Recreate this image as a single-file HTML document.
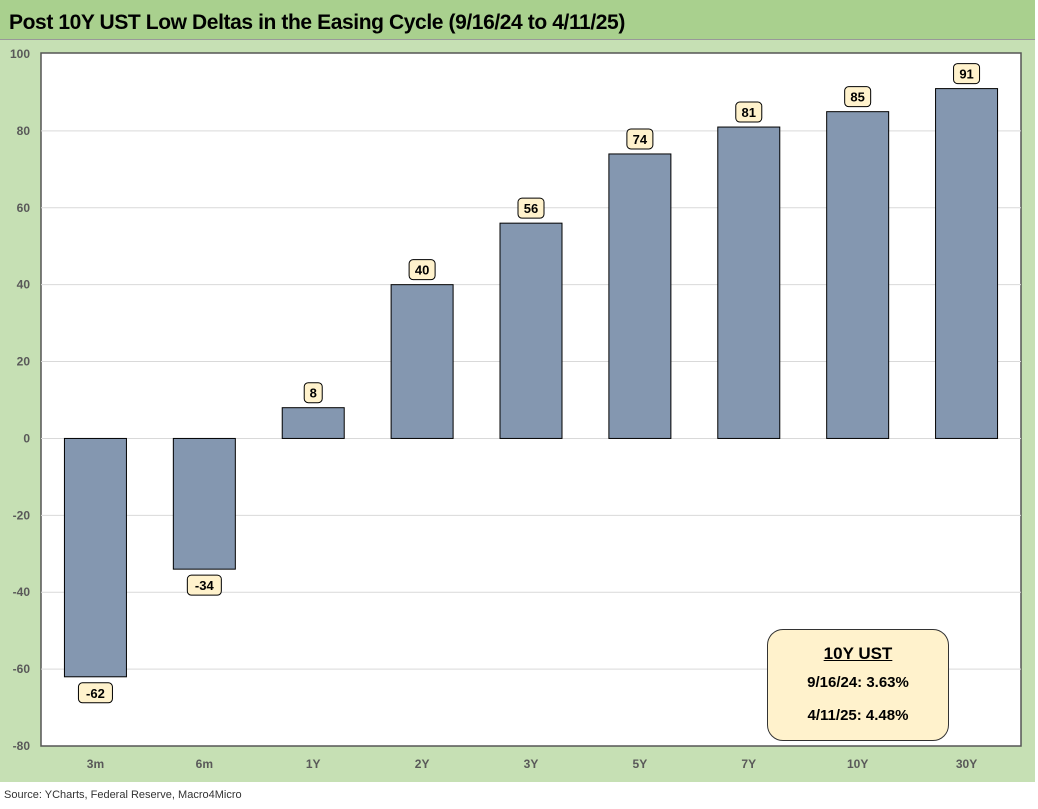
<!DOCTYPE html>
<html><head><meta charset="utf-8"><style>
body{margin:0;width:1038px;height:809px;background:#fff;font-family:"Liberation Sans",sans-serif;overflow:hidden;position:relative}
</style></head><body>
<div style="position:absolute;left:0;top:0;width:1035px;height:782px;background:#c6e0b4"></div>
<div style="position:absolute;left:0;top:0;width:1035px;height:39px;background:#a9d08e;border-bottom:1px solid #999"></div>
<div style="position:absolute;left:9px;top:11px;font-size:21px;font-weight:bold;color:#000;letter-spacing:-0.4px">Post 10Y UST Low Deltas in the Easing Cycle (9/16/24 to 4/11/25)</div>
<svg id="chart" width="1038" height="809" style="position:absolute;left:0;top:0"></svg>
<div style="position:absolute;left:767px;top:629px;width:180px;height:110px;background:#fff2cc;border:1px solid #333;border-radius:16px;text-align:center;font-weight:bold;color:#000">
<div style="margin-top:14px;font-size:17px;text-decoration:underline">10Y UST</div>
<div style="margin-top:10px;font-size:15px">9/16/24: 3.63%</div>
<div style="margin-top:16px;font-size:15px">4/11/25: 4.48%</div>
</div>
<div style="position:absolute;left:4px;top:789px;font-size:11px;color:#333">Source: YCharts, Federal Reserve, Macro4Micro</div>
<script>
const categories=["3m","6m","1Y","2Y","3Y","5Y","7Y","10Y","30Y"];
const values=[-62,-34,8,40,56,74,81,85,91];
const yTicks=[100,80,60,40,20,0,-20,-40,-60,-80];
const svg=document.getElementById('chart');
const NS='http://www.w3.org/2000/svg';
const L=41,R=1021,T=54,B=746,yMax=100,yMin=-80;
const y=v=>T+(yMax-v)/(yMax-yMin)*(B-T);
const bw=(R-L)/categories.length;
const x=i=>L+bw*(i+0.5);
function mk(tag,attrs){const e=document.createElementNS(NS,tag);for(const k in attrs)e.setAttribute(k,attrs[k]);svg.appendChild(e);return e;}
let bg=mk('rect',{x:L,y:T-1,width:R-L,height:B-T+1,fill:'#fff',stroke:'#555','stroke-width':1.5});


yTicks.forEach(t=>{
 if(t!==0&&t!==yMax&&t!==yMin){let g=mk('line',{x1:L,x2:R,y1:y(t),y2:y(t),stroke:'#d9d9d9','stroke-width':1});
 
 }
 let tx=mk('text',{x:30,y:y(t)+4,'text-anchor':'end','font-size':12,'font-weight':'bold',fill:'#595959','font-family':'Liberation Sans'});
 tx.textContent=t;
 
 
});
let z=mk('line',{x1:L,x2:R,y1:y(0),y2:y(0),stroke:'#d9d9d9','stroke-width':1});


categories.forEach((c,i)=>{
 const v=values[i],w=62;
 let b=mk('rect',{x:x(i)-w/2,y:Math.min(y(v),y(0)),width:w,height:Math.abs(y(v)-y(0)),fill:'#8497b0',stroke:'#000','stroke-width':1});
 
 
 let lbl=mk('text',{x:x(i),y:y(-80)+22,'text-anchor':'middle','font-size':12,'font-weight':'bold',fill:'#595959','font-family':'Liberation Sans'});
 lbl.textContent=c;
 
 
 const s=String(v),lw=s.length*8+10;
 const cy=v>=0?y(v)-15:y(v)+16;
 let box=mk('rect',{x:x(i)-lw/2,y:cy-10,width:lw,height:20,rx:4,fill:'#fff2cc',stroke:'#000','stroke-width':1});
 
 
 let vt=mk('text',{x:x(i),y:cy+5,'text-anchor':'middle','font-size':13,'font-weight':'bold',fill:'#000','font-family':'Liberation Sans'});
 vt.textContent=s;
 
 
});
</script>
</body></html>
